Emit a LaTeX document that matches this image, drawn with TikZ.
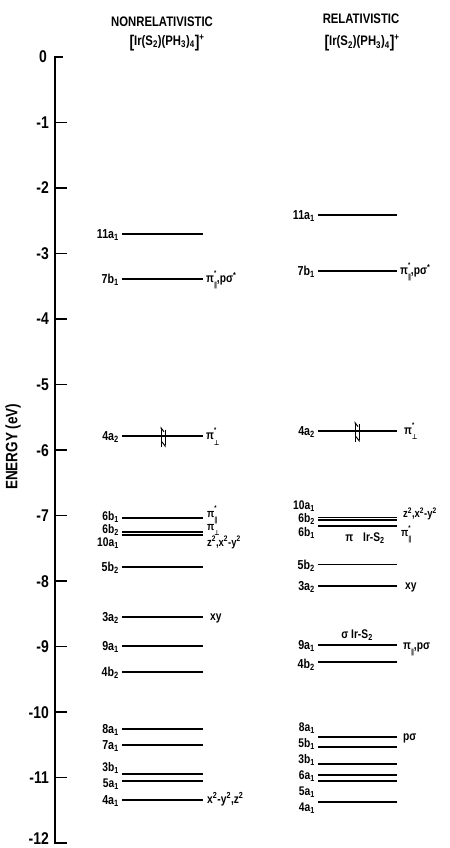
\documentclass[tikz,border=0pt]{standalone}
\usepackage{fontspec}
\setmainfont{Liberation Sans}[FakeStretch=0.82]
\newfontfamily\symfont{DejaVu Sans}[FakeStretch=0.82]
\usetikzlibrary{arrows.meta}
\newcommand\Sb[1]{\textsubscript{#1}}
\newcommand\Sp[1]{\textsuperscript{#1}}
\newcommand\parsym{{\symfont ∥}}
\newcommand\perpsym{{\symfont ⊥}}
\newcommand\pistar[1]{π\rlap{\raisebox{0.55em}{\scriptsize *}}\raisebox{-0.42em}{\scriptsize #1}}
\newcommand\formula{\raisebox{-0.15em}{\fontsize{17}{17}\selectfont[}Ir(S\Sb{2})(PH\Sb{3})\Sb{4}\raisebox{-0.15em}{\fontsize{17}{17}\selectfont]}\Sp{+}}
% level line: name, x1, x2, level E
\newcommand\LV[4]{%
  \coordinate (#1a) at (#2,#4); \coordinate (#1b) at (#3,#4);
  \draw[lvl] (#1a) -- (#1b);}
% left level with label: name, level E, label E, label text
\newcommand\LL[4]{\LV{#1}{122}{203}{#2}\node[lab] (#1l) at (119,#3) {#4};}
\newcommand\RL[4]{\LV{#1}{318}{397}{#2}\node[lab] (#1l) at (315,#3) {#4};}
\begin{document}
\begin{tikzpicture}[x=1pt,y=65.5pt,
  lvl/.style={line width=1.6pt},
  lab/.style={font=\fontsize{13}{13}\selectfont\bfseries, inner sep=0pt, anchor=base east, yshift=-4.5pt},
  stack/.style={font=\fontsize{12.5}{13}\selectfont\bfseries, inner sep=0pt, align=right, anchor=north east},
  ann/.style={font=\fontsize{12.5}{12.5}\selectfont\bfseries, inner sep=0pt, anchor=base west, yshift=-3.5pt},
  cann/.style={font=\fontsize{12.5}{12.5}\selectfont\bfseries, inner sep=0pt, anchor=base, yshift=-4pt},
  axisline/.style={line width=1.6pt},
  num/.style={font=\fontsize{17}{17}\selectfont\bfseries, anchor=base east, inner sep=0pt, yshift=-6pt},
  head/.style={font=\fontsize{13.8}{13.8}\selectfont\bfseries, inner sep=0pt},
  el/.style={line width=1pt, -{Straight Barb[harpoon,swap,length=4pt,width=6pt]}}]
\useasboundingbox (0,0.870) rectangle (449,-12.076);
% axis
\coordinate (ax0) at (55,0);
\coordinate (ax12) at (55,-12);
\draw[axisline] (63,0) -- (ax0) -- (ax12) -- (67,-12);
\node[num] (t0) at (47,0) {0};
\foreach \k in {1,...,11} {
  \draw[axisline] (55,-\k) -- (67,-\k);
  \node[num] (t\k) at (49,-\k) {-\k};
}
\node[num] (t12) at (49,-11.93) {-12};
\node[font=\fontsize{16.5}{16.5}\selectfont\bfseries, rotate=90, inner sep=0pt] (elab) at (13,-5.95) {ENERGY (eV)};
% headers
\node[head] (hnr) at (162,0.534) {NONRELATIVISTIC};
\node[head] (fnr) at (167,0.214) {\formula};
\node[head] (hr) at (361,0.58) {RELATIVISTIC};
\node[head] (fr) at (362,0.21) {\formula};
% left column
\LL{L11}{-2.70}{-2.70}{11a\Sb{1}}
\LL{L7b}{-3.39}{-3.39}{7b\Sb{1}}
\LL{L4at}{-5.79}{-5.79}{4a\Sb{2}}
\LV{L6bo}{122}{203}{-7.04}
\LV{L6bt}{122}{203}{-7.25}
\LV{L10a}{122}{203}{-7.30}
\node[stack] (L6l) at (119,-6.94) {6b\Sb{1}\\6b\Sb{2}\\10a\Sb{1}};
\LL{L5bt}{-7.79}{-7.79}{5b\Sb{2}}
\LL{L3at}{-8.55}{-8.55}{3a\Sb{2}}
\LL{L9a}{-8.99}{-8.99}{9a\Sb{1}}
\LL{L4bt}{-9.39}{-9.39}{4b\Sb{2}}
\LL{L8a}{-10.26}{-10.26}{8a\Sb{1}}
\LL{L7a}{-10.50}{-10.50}{7a\Sb{1}}
\LV{L3b}{122}{203}{-10.95}
\LV{L5a}{122}{203}{-11.05}
\node[stack, font=\fontsize{12.5}{15.5}\selectfont\bfseries] (L3l) at (119,-10.77) {3b\Sb{1}\\5a\Sb{1}};
\LL{L4ao}{-11.34}{-11.34}{4a\Sb{1}}
% right column
\RL{R11}{-2.41}{-2.41}{11a\Sb{1}}
\RL{R7b}{-3.27}{-3.27}{7b\Sb{1}}
\RL{R4at}{-5.71}{-5.71}{4a\Sb{2}}
\LV{R10a}{318}{397}{-7.03}
\LV{R6bt}{318}{397}{-7.07}
\LV{R6bo}{318}{397}{-7.16}
\node[stack, font=\fontsize{12.5}{13.5}\selectfont\bfseries] (R10l) at (315,-6.77) {10a\Sb{1}\\6b\Sb{2}\\6b\Sb{1}};
\RL{R5bt}{-7.75}{-7.75}{5b\Sb{2}}
\RL{R3at}{-8.08}{-8.08}{3a\Sb{2}}
\RL{R9a}{-8.98}{-8.98}{9a\Sb{1}}
\RL{R4bt}{-9.24}{-9.27}{4b\Sb{2}}
\LV{R8a}{318}{397}{-10.38}
\LV{R5b}{318}{397}{-10.53}
\LV{R3b}{318}{397}{-10.79}
\LV{R6a}{318}{397}{-10.96}
\LV{R5a}{318}{397}{-11.05}
\LV{R4ao}{318}{397}{-11.37}
\node[stack, font=\fontsize{12.5}{16}\selectfont\bfseries] (R8l) at (315,-10.16) {8a\Sb{1}\\5b\Sb{1}\\3b\Sb{1}\\6a\Sb{1}\\5a\Sb{1}\\4a\Sb{1}};
% electrons
\coordinate (eLu1) at (161,-5.95); \coordinate (eLu2) at (161,-5.64);
\coordinate (eLd1) at (165,-5.69); \coordinate (eLd2) at (165,-5.96);
\draw[el] (eLu1) -- (eLu2);
\draw[el] (eLd1) -- (eLd2);
\coordinate (eRu1) at (355,-5.88); \coordinate (eRu2) at (355,-5.56);
\coordinate (eRd1) at (359,-5.60); \coordinate (eRd2) at (359,-5.88);
\draw[el] (eRu1) -- (eRu2);
\draw[el] (eRd1) -- (eRd2);
% left annotations
\node[ann] (aL7b) at (206,-3.39) {\pistar{\parsym},pσ\Sp{*}};
\node[ann] (aL4a) at (206,-5.79) {\pistar{\perpsym}};
\node[ann, anchor=north west, yshift=0pt, align=left, font=\fontsize{11.5}{13.5}\selectfont\bfseries] (aL6) at (207,-6.80)
  {\pistar{\parsym}\\ π\raisebox{-0.38em}{\scriptsize\perpsym}\\ z\Sp{2},x\Sp{2}-y\Sp{2}};
\node[ann] (aL3a) at (210,-8.55) {xy};
\node[ann] (aL4a1) at (207,-11.34) {x\Sp{2}-y\Sp{2},z\Sp{2}};
% right annotations
\node[ann] (aR7b) at (400,-3.27) {\pistar{\parsym},pσ\Sp{*}};
\node[ann] (aR4a) at (404,-5.71) {\pistar{\perpsym}};
\node[ann, anchor=north west, yshift=0pt, align=left, font=\fontsize{11.5}{19}\selectfont\bfseries] (aR10) at (401,-6.82)
  {\hspace{2pt}z\Sp{2},x\Sp{2}-y\Sp{2}\\ \pistar{\parsym}};
\node[cann] (aRpi) at (365,-7.33) {π\hspace{0.8em}Ir-S\Sb{2}};
\node[ann] (aR3a) at (405,-8.08) {xy};
\node[cann] (aRsig) at (357,-8.82) {σ Ir-S\Sb{2}};
\node[ann] (aR9a) at (403,-8.99) {π\raisebox{-0.38em}{\scriptsize\parsym},pσ};
\node[ann] (aR8a) at (403,-10.38) {pσ};
\end{tikzpicture}
\end{document}
